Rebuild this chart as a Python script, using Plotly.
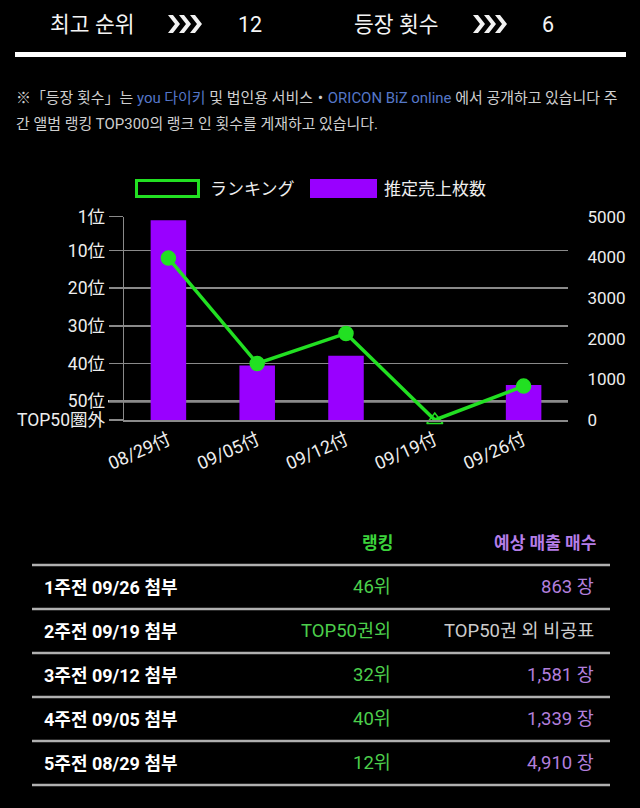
import plotly.graph_objects as go

# ---------------- data ----------------
dates = ["08/29付", "09/05付", "09/12付", "09/19付", "09/26付"]
sales = [4910, 1339, 1581, 0, 863]
ranks = [12, 40, 32, None, 46]          # None = outside TOP50
OUT_RANK = 55                            # axis position for "TOP50圏外"
rank_tickvals = [1, 10, 20, 30, 40, 50, 55]
rank_ticktext = ["1位", "10位", "20位", "30位", "40位", "50位", "TOP50圏外"]
sales_tickvals = [0, 1000, 2000, 3000, 4000, 5000]

best_rank = 12
appearances = 6

table_labels = ["1주전 09/26 첨부", "2주전 09/19 첨부", "3주전 09/12 첨부",
                "4주전 09/05 첨부", "5주전 08/29 첨부"]
table_rank = ["46위", "TOP50권외", "32위", "40위", "12위"]
table_sales = ["863 장", "TOP50권 외 비공표", "1,581 장", "1,339 장", "4,910 장"]

# ---------------- style ----------------
W, H = 640, 808
GREEN = "#22e022"
PURPLE = "#9900ff"
GRID = "#8a8a8a"
TXT = "#eeeeee"
FONT = "Roboto, 'Noto Sans CJK JP', sans-serif"
KFONT = "Roboto, 'Noto Sans CJK KR', sans-serif"


def px(x):
    return x / W


def py(y):
    return 1 - y / H


plot_l, plot_r, plot_t, plot_b = 124, 568, 216.7, 420

rank_plot = [r if r is not None else OUT_RANK for r in ranks]
symbols = ["circle" if r is not None else "triangle-up-open" for r in ranks]

fig = go.Figure()
fig.add_trace(go.Bar(x=dates, y=sales, yaxis="y", width=0.4,
                     marker=dict(color=PURPLE, line=dict(width=0)),
                     showlegend=False, hoverinfo="skip"))
fig.add_trace(go.Scatter(x=dates, y=rank_plot, yaxis="y2", mode="lines+markers",
                         line=dict(color=GREEN, width=3.5),
                         marker=dict(symbol=symbols, size=14, color=GREEN,
                                     line=dict(color=GREEN, width=1.5)),
                         showlegend=False, hoverinfo="skip", cliponaxis=False))

shapes = []
annotations = []

# ---- header ----
def chevrons(x0, top=15, bot=33):
    mid = (top + bot) / 2
    for i in range(3):
        xs = x0 + i * 11
        pts = [(xs, top), (xs + 5, top), (xs + 12, mid), (xs + 5, bot), (xs, bot), (xs + 7, mid)]
        path = "M " + " L ".join(f"{px(a):.5f},{py(b):.5f}" for a, b in pts) + " Z"
        shapes.append(dict(type="path", xref="paper", yref="paper", path=path,
                           fillcolor="#f2f2f2", line=dict(width=0), layer="above"))

chevrons(168)
chevrons(473)

hfont = dict(family=KFONT, size=21.5, color="#f5f5f5")
annotations += [
    dict(text="최고 순위", x=px(48), y=py(24), xanchor="left", yanchor="middle", font=hfont),
    dict(text=str(best_rank), x=px(250), y=py(24), xanchor="center", yanchor="middle", font=hfont),
    dict(text="등장 횟수", x=px(352), y=py(24), xanchor="left", yanchor="middle", font=hfont),
    dict(text=str(appearances), x=px(548), y=py(24), xanchor="center", yanchor="middle", font=hfont),
]
shapes.append(dict(type="line", xref="paper", yref="paper", x0=px(15), x1=px(626),
                   y0=py(54.5), y1=py(54.5), line=dict(color="#ffffff", width=5)))

# ---- note ----
BLUE = "#5577c8"
nfont = dict(family=KFONT, size=14.95, color="#cfcfcf")
line1 = ("※「등장 횟수」는 <span style='color:%s'>you 다이키</span> 및 법인용 서비스・"
         "<span style='color:%s'>ORICON BiZ online</span> 에서 공개하고 있습니다 주") % (BLUE, BLUE)
line2 = "간 앨범 랭킹 TOP300의 랭크 인 횟수를 게재하고 있습니다."
annotations += [
    dict(text=line1, x=px(14), y=py(98), xanchor="left", yanchor="middle", font=nfont),
    dict(text=line2, x=px(14), y=py(124), xanchor="left", yanchor="middle", font=nfont),
]

# ---- legend ----
shapes.append(dict(type="rect", xref="paper", yref="paper", x0=px(136.5), x1=px(198.5),
                   y0=py(180.5), y1=py(196.5), line=dict(color=GREEN, width=3), fillcolor="#000"))
shapes.append(dict(type="rect", xref="paper", yref="paper", x0=px(310), x1=px(377),
                   y0=py(179), y1=py(198), line=dict(width=0), fillcolor=PURPLE))
lfont = dict(family=FONT, size=17, color=TXT)
annotations += [
    dict(text="ランキング", x=px(208), y=py(189), xanchor="left", yanchor="middle", font=lfont),
    dict(text="推定売上枚数", x=px(382), y=py(189), xanchor="left", yanchor="middle", font=lfont),
]

# ---- 50位 emphasised line ----
shapes.append(dict(type="line", xref="paper", yref="y2", x0=px(108), x1=px(plot_r),
                   y0=50, y1=50, line=dict(color="#d0d0d0", width=2.5), layer="between"))

# ---- table ----
for yl in [565, 609, 653, 697, 741, 785]:
    shapes.append(dict(type="line", xref="paper", yref="paper", x0=px(32), x1=px(610),
                       y0=py(yl), y1=py(yl), line=dict(color="#b0b0b0", width=2.5)))

annotations += [
    dict(text="<b>랭킹</b>", x=px(395), y=py(543), xanchor="right", yanchor="middle",
         font=dict(family=KFONT, size=17, color="#3cd23c")),
    dict(text="<b>예상 매출 매수</b>", x=px(598), y=py(543), xanchor="right", yanchor="middle",
         font=dict(family=KFONT, size=17, color="#b57ee8")),
]
row_y = [587, 631, 675, 719, 763]
for lab, rk, sl, yy in zip(table_labels, table_rank, table_sales, row_y):
    annotations.append(dict(text=f"<b>{lab}</b>", x=px(42), y=py(yy), xanchor="left",
                            yanchor="middle", font=dict(family=KFONT, size=18, color="#ffffff")))
    annotations.append(dict(text=rk, x=px(393), y=py(yy), xanchor="right", yanchor="middle",
                            font=dict(family=KFONT, size=18.5, color="#4ccf4c")))
    scol = "#cccccc" if "비공표" in sl else "#b27fdc"
    annotations.append(dict(text=sl, x=px(596), y=py(yy), xanchor="right", yanchor="middle",
                            font=dict(family=KFONT, size=18.5, color=scol)))

for a in annotations:
    a.update(xref="paper", yref="paper", showarrow=False)

ydom = [1 - plot_b / H, 1 - plot_t / H]
fig.update_layout(
    template="none",
    width=W, height=H, autosize=False,
    margin=dict(l=0, r=0, t=0, b=0, pad=0),
    paper_bgcolor="#000000", plot_bgcolor="#000000",
    bargap=0.6,
    xaxis=dict(domain=[px(plot_l), px(plot_r)], type="category", automargin=False,
               showline=True, linecolor=GRID, linewidth=1.5,
               ticks="", showgrid=False, tickangle=-24, ticklabelstandoff=1,
               tickfont=dict(family=FONT, size=18, color=TXT), fixedrange=True),
    yaxis=dict(domain=ydom, side="right", range=[0, 5000], tickvals=sales_tickvals,
               automargin=False,
               showgrid=False, zeroline=False, showline=False,
               ticks="outside", ticklen=15, tickcolor="rgba(0,0,0,0)",
               tickfont=dict(family=FONT, size=17, color=TXT)),
    yaxis2=dict(domain=ydom, overlaying="y", side="left", range=[OUT_RANK, 1],
                automargin=False,
                tickvals=rank_tickvals, ticktext=rank_ticktext,
                showgrid=True, gridcolor=GRID, gridwidth=1.5, zeroline=False,
                showline=True, linecolor=GRID, linewidth=1.5,
                ticks="outside", ticklen=14, tickcolor=GRID, tickwidth=1.5,
                tickfont=dict(family=FONT, size=17.5, color=TXT)),
    shapes=shapes, annotations=annotations,
)

fig.write_html("out.html",
               config={"displayModeBar": False, "staticPlot": True},
               post_script="document.body.style.margin='0';"
                           "document.body.style.background='#000';"
                           "document.body.style.overflow='hidden';")
